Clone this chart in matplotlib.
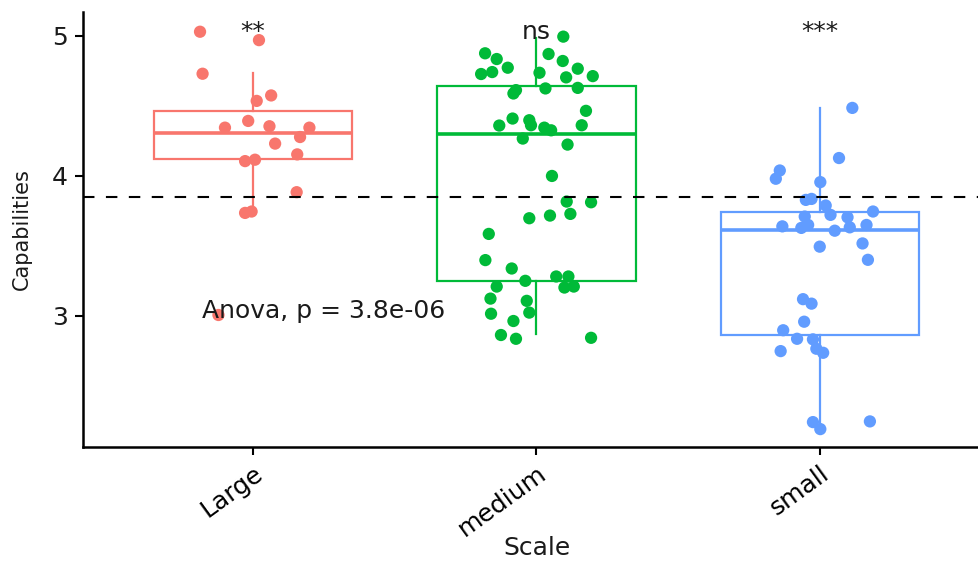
import matplotlib
matplotlib.use("Agg")
import matplotlib.pyplot as plt
import matplotlib.transforms as mtransforms
import numpy as np

plt.rcParams['font.family'] = ['DejaVu Sans']

# ---- data -------------------------------------------------------------
categories = ["Large", "medium", "small"]
colors = ["#F8766D", "#00BA38", "#619CFF"]

large_values = [5.03, 4.97, 4.73, 4.575, 4.536, 4.393, 4.345, 4.355, 4.345,
                4.278, 4.231, 4.154, 4.106, 4.116, 3.884, 3.736, 3.746, 3.007]
large_jitter = [-0.187, 0.021, -0.178, 0.064, 0.013, -0.017, -0.099, 0.058, 0.199,
                0.166, 0.078, 0.156, -0.028, 0.007, 0.154, -0.028, -0.005, -0.122]

medium_values = [4.995, 4.876, 4.835, 4.871, 4.773, 4.821, 4.766, 4.728, 4.742,
                 4.737, 4.704, 4.713, 4.613, 4.589, 4.625, 4.629, 4.465, 4.41,
                 4.398, 4.36, 4.362, 4.345, 4.326, 4.362, 4.267, 4.224, 4.0,
                 3.817, 3.812, 3.698, 3.717, 3.729, 3.586, 3.399, 3.339, 3.251,
                 3.282, 3.282, 3.21, 3.203, 3.21, 3.124, 3.108, 3.016, 3.024,
                 2.964, 2.864, 2.837, 2.844]
medium_jitter = [0.095, -0.181, -0.140, 0.043, -0.101, 0.093, 0.146, -0.195, -0.156,
                 0.011, 0.105, 0.199, -0.072, -0.081, 0.032, 0.146, 0.175, -0.084,
                 -0.025, -0.131, -0.019, 0.028, 0.052, 0.160, -0.048, 0.110, 0.055,
                 0.107, 0.193, -0.025, 0.048, 0.120, -0.168, -0.180, -0.087, -0.039,
                 0.070, 0.113, -0.140, 0.099, 0.132, -0.162, -0.034, -0.160, -0.025,
                 -0.081, -0.125, -0.072, 0.193]

small_values = [4.486, 4.128, 4.039, 3.98, 3.956, 3.829, 3.836, 3.789, 3.71,
                3.722, 3.705, 3.746, 3.64, 3.629, 3.65, 3.609, 3.633, 3.65,
                3.495, 3.518, 3.401, 3.12, 3.088, 2.959, 2.898, 2.837, 2.833,
                2.749, 2.766, 2.737, 2.242, 2.192, 2.247]
small_jitter = [0.115, 0.068, -0.141, -0.155, 0.002, -0.049, -0.029, 0.021, -0.053,
                0.038, 0.098, 0.188, -0.132, -0.065, -0.041, 0.053, 0.106, 0.165,
                0.0, 0.151, 0.170, -0.059, -0.029, -0.055, -0.129, -0.080, -0.024,
                -0.138, -0.012, 0.012, -0.024, 0.002, 0.177]

# box summaries per group
box_q1 = [4.118, 3.251, 2.864]
box_median = [4.305, 4.302, 3.617]
box_q3 = [4.462, 4.642, 3.740]
box_whislo = [3.738, 2.869, 2.200]
box_whishi = [4.735, 4.984, 4.482]

overall_mean = 3.853
signif_labels = ["**", "ns", "***"]
signif_y = 4.975
anova_label = "Anova, p = 3.8e-06"
anova_pos = (0.819, 2.988)

# ---- figure -----------------------------------------------------------
fig = plt.figure(figsize=(9.79, 5.63), dpi=100)
ax = fig.add_axes([83 / 979, 0.206, 1 - 83 / 979, 0.9787 - 0.206])

positions = np.arange(1, len(categories) + 1)

stats = []
for i in range(len(categories)):
    stats.append(dict(med=box_median[i], q1=box_q1[i], q3=box_q3[i],
                      whislo=box_whislo[i], whishi=box_whishi[i], fliers=[]))

for i, st in enumerate(stats):
    c = colors[i]
    ax.bxp([st], positions=[positions[i]], widths=0.70, showfliers=False,
           showcaps=False, patch_artist=True,
           boxprops=dict(facecolor="white", edgecolor=c, linewidth=1.6),
           whiskerprops=dict(color=c, linewidth=1.6),
           medianprops=dict(color=c, linewidth=2.6),
           manage_ticks=False, zorder=2)

groups = [(large_values, large_jitter), (medium_values, medium_jitter),
          (small_values, small_jitter)]
for i, (vals, jit) in enumerate(groups):
    xs = positions[i] + np.array(jit)
    ax.scatter(xs, vals, s=78, color=colors[i], edgecolors="none", zorder=3)

ax.axhline(overall_mean, color="black", linewidth=1.5,
           linestyle=(0, (5.5, 5.5)), zorder=4)

for i, lab in enumerate(signif_labels):
    ax.text(positions[i], signif_y, lab, ha="center", va="baseline",
            fontsize=18, color="#1a1a1a", zorder=5)

ax.text(anova_pos[0], anova_pos[1], anova_label, ha="left", va="baseline",
        fontsize=18, color="#1a1a1a", zorder=5)

# ---- axes styling -----------------------------------------------------
ax.set_xlim(0.4, 3.562)
ax.set_ylim(2.064, 5.171)
ax.set_yticks([3, 4, 5])
ax.set_xticks(positions)
ax.set_xticklabels(categories, rotation=36, ha="right", va="top",
                   rotation_mode="anchor", fontsize=18, color="#1a1a1a")
offset = mtransforms.ScaledTranslation(14 / 100, -4 / 100, fig.dpi_scale_trans)
for lbl in ax.get_xticklabels():
    lbl.set_transform(lbl.get_transform() + offset)

ax.tick_params(axis="y", labelsize=18, length=6, width=1.5, pad=5,
               colors="black", labelcolor="#1a1a1a")
ax.tick_params(axis="x", length=6, width=1.5, pad=4, colors="black")

for side in ["top", "right"]:
    ax.spines[side].set_visible(False)
for side in ["left", "bottom"]:
    ax.spines[side].set_linewidth(1.8)
    ax.spines[side].set_color("black")

ax.set_ylabel("Capabilities", fontsize=15, color="#1a1a1a")
ax.yaxis.set_label_coords(-0.068, 0.5)
ax.set_xlabel("Scale", fontsize=18, color="#1a1a1a")
ax.xaxis.set_label_coords(0.507, -0.232)
ax.xaxis.label.set_va("center")
ax.yaxis.label.set_va("center")

fig.savefig("out.png", dpi=100)
